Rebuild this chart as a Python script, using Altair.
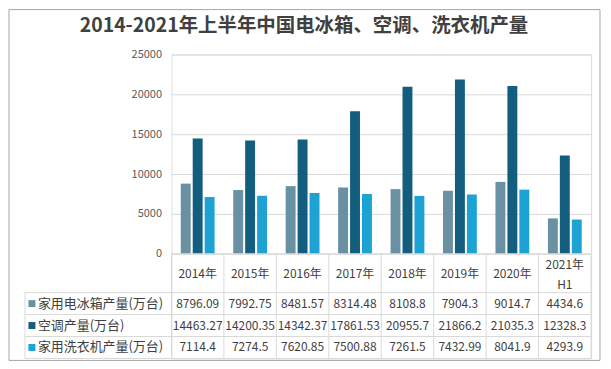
import altair as alt
import pandas as pd

years = ["2014年", "2015年", "2016年", "2017年", "2018年", "2019年", "2020年", "2021年\nH1"]
series = ["家用电冰箱产量(万台)", "空调产量(万台)", "家用洗衣机产量(万台)"]
fridge = [8796.09, 7992.75, 8481.57, 8314.48, 8108.8, 7904.3, 9014.7, 4434.6]
aircon = [14463.27, 14200.35, 14342.37, 17861.53, 20955.7, 21866.2, 21035.3, 12328.3]
washer = [7114.4, 7274.5, 7620.85, 7500.88, 7261.5, 7432.99, 8041.9, 4293.9]
colors = ["#6A90A4", "#135E7E", "#1CA2D3"]
y_ticks = [0, 5000, 10000, 15000, 20000, 25000]
title_text = "2014-2021年上半年中国电冰箱、空调、洗衣机产量"

rows = []
for s, vals in zip(series, [fridge, aircon, washer]):
    for y, v in zip(years, vals):
        rows.append({"year": y, "series": s, "value": v, "label": str(v)})
df = pd.DataFrame(rows)
df_years = pd.DataFrame({"year": years})
df_years["multi"] = df_years["year"].str.contains("\n")
df_series = pd.DataFrame({"series": series})
one = pd.DataFrame({"a": [0]})

FONT = "Noto Sans CJK SC"
W, PLOT_H, H = 421, 200, 305
LINE = "#D9D9D9"

xscale = alt.Scale(domain=years, paddingInner=0, paddingOuter=0)
cscale = alt.Scale(domain=series, range=colors)
row_scale = alt.Scale(domain=series, type="point", range=[250, 294], padding=0)

bars = alt.Chart(df).mark_bar().encode(
    x=alt.X("year:N", scale=xscale, axis=None, sort=years),
    xOffset=alt.XOffset("series:N", scale=alt.Scale(domain=series, paddingInner=0.17, paddingOuter=0.78)),
    y=alt.Y("value:Q", scale=alt.Scale(domain=[0, 25000], range=[PLOT_H, 0], nice=False),
            axis=alt.Axis(values=y_ticks, format="d", title=None, grid=True, gridColor=LINE, ticks=False,
                          domain=False, labelFontSize=11, labelColor="#595959", labelPadding=10,
                          labelFont=FONT)),
    color=alt.Color("series:N", scale=cscale, legend=None),
)

# table vertical lines
vlines = alt.Chart(df_years).mark_rule(color=LINE).encode(
    x=alt.X("year:N", scale=xscale, bandPosition=0, axis=None),
    y=alt.value(PLOT_H), y2=alt.value(H),
)
layers = [bars, vlines]
layers.append(alt.Chart(one).mark_rule(color=LINE).encode(x=alt.value(W), y=alt.value(PLOT_H), y2=alt.value(H)))
layers.append(alt.Chart(one).mark_rule(color=LINE).encode(x=alt.value(-147), y=alt.value(239), y2=alt.value(H)))
layers.append(alt.Chart(one).mark_rule(color=LINE).encode(x=alt.value(0), x2=alt.value(W), y=alt.value(PLOT_H)))
for yv in [239, 261, 283, 305]:
    layers.append(alt.Chart(one).mark_rule(color=LINE).encode(x=alt.value(-147), x2=alt.value(W), y=alt.value(yv)))

hdr_kw = dict(fontSize=12, color="#404040", font=FONT, lineBreak="\n", baseline="middle", lineHeight=20)
header1 = alt.Chart(df_years).mark_text(**hdr_kw).encode(
    x=alt.X("year:N", scale=xscale, axis=None),
    y=alt.value(220),
    text="year:N",
).transform_filter("!datum.multi")
header2 = alt.Chart(df_years).mark_text(**hdr_kw).encode(
    x=alt.X("year:N", scale=xscale, axis=None),
    y=alt.value(211),
    text="year:N",
).transform_filter("datum.multi")
values = alt.Chart(df).mark_text(fontSize=12, color="#404040", font=FONT, baseline="middle").encode(
    x=alt.X("year:N", scale=xscale, axis=None),
    y=alt.Y("series:N", scale=row_scale, axis=None),
    text="label:N",
)
squares = alt.Chart(df_series).mark_square(size=49, opacity=1).encode(
    x=alt.value(-140),
    y=alt.Y("series:N", scale=row_scale, axis=None),
    color=alt.Color("series:N", scale=cscale, legend=None),
)
row_labels = alt.Chart(df_series).mark_text(fontSize=13, color="#404040", font=FONT, align="left",
                                            baseline="middle").encode(
    x=alt.value(-134),
    y=alt.Y("series:N", scale=row_scale, axis=None),
    text="series:N",
)
title = alt.Chart(one).mark_text(fontSize=19.5, fontWeight="bold", color="#404040", font=FONT,
                                 baseline="middle").encode(
    x=alt.value(133), y=alt.value(-29), text=alt.value(title_text),
)
border = alt.Chart(one).mark_rect(fillOpacity=0, stroke="#A6A6A6", strokeWidth=1).encode(
    x=alt.value(-163), x2=alt.value(430), y=alt.value(-45), y2=alt.value(307),
)

layers += [header1, header2, values, squares, row_labels, title, border]

chart = alt.layer(*layers).resolve_scale(y="independent").properties(
    width=W, height=H,
    autosize=alt.AutoSizeParams(type="none"),
    padding={"left": 164, "top": 46, "right": 12, "bottom": 6},
).configure_view(stroke=None).configure(font=FONT)

chart.save("out.html", embed_options={"renderer": "svg", "actions": False})
